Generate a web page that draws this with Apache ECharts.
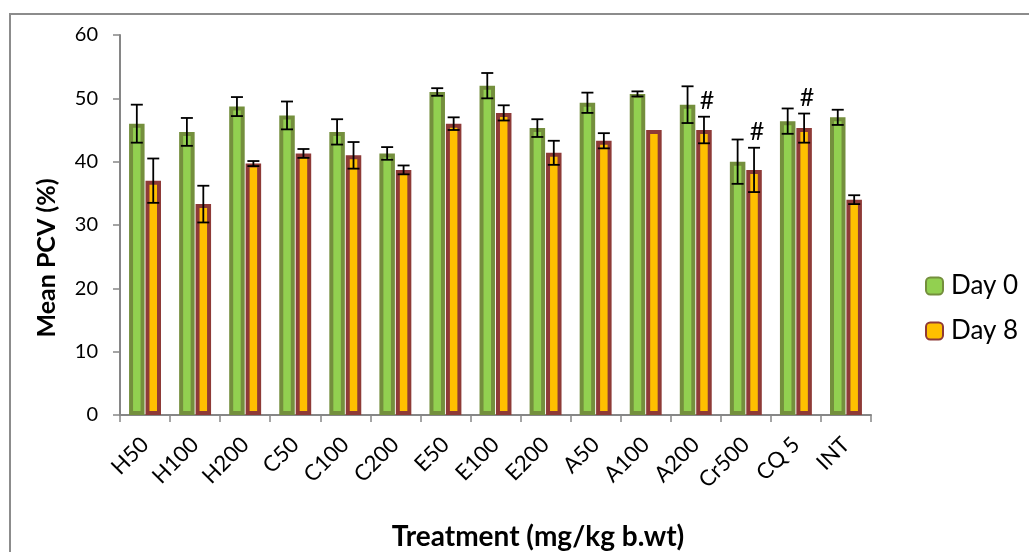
<!DOCTYPE html>
<html>
<head>
<meta charset="utf-8">
<script src="https://cdn.jsdelivr.net/npm/echarts@6/dist/echarts.min.js"></script>
<style>
html,body{margin:0;padding:0;background:#fff;overflow:hidden;}
#c{width:1029px;height:552px;}
</style>
</head>
<body>
<div id="c"></div>
<script>
const categories = ['H50','H100','H200','C50','C100','C200','E50','E100','E200','A50','A100','A200','Cr500','CQ 5','INT'];
const day0 = [46.0, 44.7, 48.7, 47.3, 44.7, 41.3, 51.0, 52.0, 45.3, 49.3, 50.7, 49.0, 40.0, 46.4, 47.0];
const day0Err = [3.0, 2.2, 1.5, 2.2, 2.0, 1.0, 0.6, 2.0, 1.4, 1.6, 0.4, 2.9, 3.5, 2.0, 1.2];
const day8 = [37.0, 33.3, 39.7, 41.3, 41.0, 38.7, 46.0, 47.7, 41.4, 43.3, 45.0, 45.0, 38.7, 45.3, 34.0];
const day8Err = [3.5, 2.9, 0.4, 0.7, 2.1, 0.7, 1.0, 1.2, 1.9, 1.2, 0, 2.1, 3.5, 2.3, 0.7];
const day8Mark = ['', '', '', '', '', '', '', '', '', '', '', '#', '#', '#', ''];
const yTicks = [0, 10, 20, 30, 40, 50, 60];
const xTitle = 'Treatment (mg/kg b.wt)';
const yTitle = 'Mean PCV (%)';

const BAR_W = 15.5, BAR_GAP = 0.06;
const OFF = BAR_W * (1 + BAR_GAP) / 2;
const FONT = 'Lato, "DejaVu Sans", sans-serif';

function errRender(offset, marks) {
  return function (params, api) {
    const i = api.value(0), v = api.value(1), e = api.value(2);
    const top = api.coord([i, v + e]);
    const bot = api.coord([i, v - e]);
    const x = top[0] + offset;
    const cap = 6;
    const style = {stroke: '#000', lineWidth: 1.8};
    const children = [];
    if (e > 0) {
      children.push({type: 'line', shape: {x1: x, y1: top[1], x2: x, y2: bot[1]}, style: style});
      children.push({type: 'line', shape: {x1: x - cap, y1: top[1], x2: x + cap, y2: top[1]}, style: style});
      children.push({type: 'line', shape: {x1: x - cap, y1: bot[1], x2: x + cap, y2: bot[1]}, style: style});
    }
    const m = marks ? marks[params.dataIndex] : '';
    if (m) {
      children.push({type: 'text', style: {text: m, x: x + 3, y: top[1] - 3, align: 'center', verticalAlign: 'bottom', fontSize: 25, fontFamily: FONT, fill: '#000'}});
    }
    return {type: 'group', children: children};
  };
}

const chart = echarts.init(document.getElementById('c'), null, {renderer: 'canvas', width: 1029, height: 552});
chart.setOption({
  animation: false,
  backgroundColor: '#fff',
  textStyle: {fontFamily: FONT},
  graphic: [{
    type: 'rect', silent: true, z: -1,
    shape: {x: 10, y: 14, width: 1100, height: 700},
    style: {fill: 'none', stroke: '#8c8c8c', lineWidth: 2}
  }, {
    type: 'text', silent: true,
    x: 47, y: 258, rotation: Math.PI / 2,
    style: {text: yTitle, align: 'center', verticalAlign: 'middle', fontSize: 25, fontWeight: 'bold', fill: '#000', fontFamily: FONT}
  }, {
    type: 'text', silent: true,
    x: 538, y: 537,
    style: {text: xTitle, align: 'center', verticalAlign: 'middle', fontSize: 28, fontWeight: 'bold', fill: '#000', fontFamily: FONT}
  }],
  grid: {left: 120, width: 751, top: 35, height: 380, containLabel: false},
  legend: {
    orient: 'vertical', left: 920, top: 268,
    itemWidth: 17, itemHeight: 17, itemGap: 20, itemGap: 19,
    textStyle: {fontSize: 26, color: '#000', fontFamily: FONT, padding: [0, 0, 0, 3]},
    data: ['Day 0', 'Day 8']
  },
  xAxis: {
    type: 'category', data: categories,
    axisLine: {lineStyle: {color: '#868686', width: 2}},
    axisTick: {show: true, length: 7, lineStyle: {color: '#868686', width: 1.5}},
    axisLabel: {rotate: 45, fontSize: 22, color: '#000', margin: 26, interval: 0, fontFamily: FONT}
  },
  yAxis: {
    type: 'value', min: yTicks[0], max: yTicks[yTicks.length - 1], interval: 10,
    splitLine: {show: false},
    axisLine: {show: true, lineStyle: {color: '#868686', width: 2}},
    axisTick: {show: true, length: 7, lineStyle: {color: '#868686', width: 1.5}},
    axisLabel: {fontSize: 20, color: '#000', margin: 22, fontFamily: FONT}
  },
  series: [
    {name: 'Day 0', type: 'bar', data: day0, barWidth: BAR_W, barGap: (BAR_GAP * 100) + '%',
     itemStyle: {color: '#92D050', borderColor: '#748F3D', borderWidth: 4}},
    {name: 'Day 8', type: 'bar', data: day8, barWidth: BAR_W,
     itemStyle: {color: '#FFC000', borderColor: '#8E3A37', borderWidth: 4}},
    {type: 'custom', z: 5, renderItem: errRender(-OFF, null),
     data: day0.map((v, i) => [i, v, day0Err[i]]), encode: {x: 0, y: 1}},
    {type: 'custom', z: 5, renderItem: errRender(OFF, day8Mark),
     data: day8.map((v, i) => [i, v, day8Err[i]]), encode: {x: 0, y: 1}}
  ]
});
</script>
</body>
</html>
